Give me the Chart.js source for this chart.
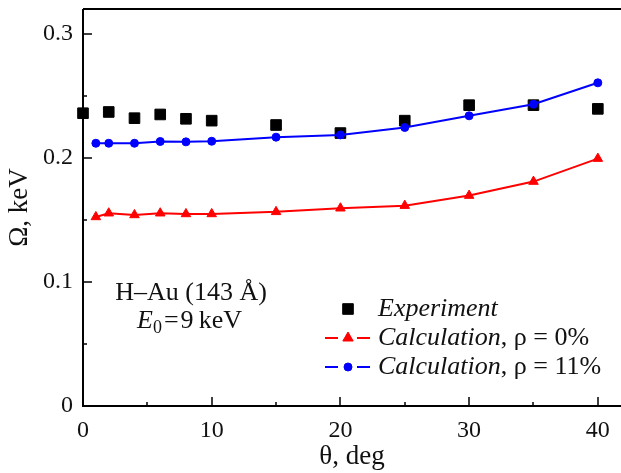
<!DOCTYPE html>
<html>
<head>
<meta charset="utf-8">
<script src="https://cdn.jsdelivr.net/npm/chart.js@4/dist/chart.umd.min.js"></script>
<style>
  html, body { margin: 0; padding: 0; background: #fff; }
  #wrap { width: 621px; height: 473px; }
</style>
</head>
<body>
<div id="wrap"><canvas id="chart" width="621" height="473"></canvas></div>
<script>
// data
const expAngles = [0, 2, 4, 6, 8, 10, 15, 20, 25, 30, 35, 40];
const expValues = [0.236, 0.237, 0.232, 0.235, 0.2315, 0.230, 0.2265, 0.220, 0.230, 0.2425, 0.2425, 0.2395];
const calcAngles = [1, 2, 4, 6, 8, 10, 15, 20, 25, 30, 35, 40];
const calcRho0 = [0.1524, 0.1554, 0.154, 0.1554, 0.1548, 0.1548, 0.1565, 0.1594, 0.1615, 0.1696, 0.1809, 0.1994];
const calcRho11 = [0.2118, 0.2118, 0.2118, 0.2132, 0.2129, 0.2134, 0.2167, 0.2185, 0.2245, 0.2339, 0.2433, 0.2605];
const xMajor = [0, 10, 20, 30, 40];
const xMinor = [5, 15, 25, 35];
const yMajor = [0, 0.1, 0.2, 0.3];
const yMinor = [0.05, 0.15, 0.25];

const serif = '"Liberation Serif", "DejaVu Serif", serif';
const toXY = (xs, ys) => xs.map((x, i) => ({ x: x, y: ys[i] }));

function noPad(s) { s.paddingTop = 0; s.paddingBottom = 0; s.paddingLeft = 0; s.paddingRight = 0; }

const framePlugin = {
    id: 'frame',
    afterDatasetsDraw(chart) {
        const { ctx, chartArea: a, scales } = chart;
        const sx = scales.x, sy = scales.y;
        ctx.save();
        ctx.strokeStyle = '#000';
        ctx.lineWidth = 2;
        ctx.beginPath();
        ctx.moveTo(a.left, a.top); ctx.lineTo(a.left, a.bottom); ctx.lineTo(a.right, a.bottom);
        ctx.moveTo(a.left, a.top); ctx.lineTo(a.right, a.top);
        ctx.stroke();
        ctx.lineWidth = 1.5;
        ctx.beginPath();
        yMajor.forEach(v => { const p = Math.round(sy.getPixelForValue(v)); ctx.moveTo(a.left, p); ctx.lineTo(a.left + 9, p); });
        yMinor.forEach(v => { const p = Math.round(sy.getPixelForValue(v)); ctx.moveTo(a.left, p); ctx.lineTo(a.left + 4, p); });
        xMajor.forEach(v => { const p = Math.round(sx.getPixelForValue(v)); ctx.moveTo(p, a.bottom); ctx.lineTo(p, a.bottom - 9); });
        xMinor.forEach(v => { const p = Math.round(sx.getPixelForValue(v)); ctx.moveTo(p, a.bottom); ctx.lineTo(p, a.bottom - 4); });
        ctx.stroke();

        // annotation
        ctx.fillStyle = '#111';
        ctx.textBaseline = 'middle';
        ctx.textAlign = 'center';
        ctx.font = '26px ' + serif;
        ctx.fillText('H\u2013Au (143 \u00c5)', 191, 293);
        ctx.textAlign = 'left';
        let x = 137;
        ctx.font = 'italic 26px ' + serif;
        ctx.fillText('E', x, 321); x += ctx.measureText('E').width;
        ctx.font = '18px ' + serif;
        ctx.fillText('0', x, 328); x += ctx.measureText('0').width + 2;
        ctx.font = '26px ' + serif;
        ctx.fillText('=', x, 321); x += ctx.measureText('=').width + 2;
        ctx.fillText('9\u2009keV', x, 321);

        // legend
        const rows = [
            { y: 309, color: '#000', style: 'rect', r: 7.5, line: false, it: 'Experiment', rest: '' },
            { y: 338, color: '#ff0000', style: 'triangle', r: 6, line: true, it: 'Calculation', rest: ', \u03c1 = 0%' },
            { y: 367, color: '#0000ff', style: 'circle', r: 4, line: true, it: 'Calculation', rest: ', \u03c1 = 11%' }
        ];
        rows.forEach(r => {
            if (r.line) {
                ctx.strokeStyle = r.color; ctx.lineWidth = 2;
                ctx.beginPath();
                ctx.moveTo(325, r.y); ctx.lineTo(338, r.y);
                ctx.moveTo(357, r.y); ctx.lineTo(370, r.y);
                ctx.stroke();
            }
            ctx.fillStyle = r.color; ctx.strokeStyle = r.color; ctx.lineWidth = 1;
            Chart.helpers.drawPoint(ctx, { pointStyle: r.style, radius: r.r, borderWidth: 1, rotation: 0 }, 348, r.y);
            ctx.fillStyle = '#111';
            ctx.font = 'italic 26px ' + serif;
            ctx.fillText(r.it, 378, r.y);
            const w = ctx.measureText(r.it).width;
            ctx.font = '26px ' + serif;
            ctx.fillText(r.rest, 378 + w, r.y);
        });
        ctx.restore();
    }
};

new Chart(document.getElementById('chart'), {
    type: 'scatter',
    data: {
        datasets: [
            {
                label: 'Calculation, \u03c1 = 11%', data: toXY(calcAngles, calcRho11),
                showLine: true, borderColor: '#0000ff', backgroundColor: '#0000ff', borderWidth: 2,
                pointStyle: 'circle', pointRadius: 4, pointBorderWidth: 1, clip: false
            },
            {
                label: 'Calculation, \u03c1 = 0%', data: toXY(calcAngles, calcRho0),
                showLine: true, borderColor: '#ff0000', backgroundColor: '#ff0000', borderWidth: 2,
                pointStyle: 'triangle', pointRadius: 5.5, pointBorderWidth: 1, clip: false
            },
            {
                label: 'Experiment', data: toXY(expAngles, expValues),
                showLine: false, borderColor: '#000', backgroundColor: '#000',
                pointStyle: 'rect', pointRadius: 7.5, pointBorderWidth: 1, clip: false
            }
        ]
    },
    options: {
        responsive: false, animation: false,
        layout: { autoPadding: false, padding: { top: 9, right: 0, left: 0, bottom: 0 } },
        plugins: { legend: { display: false }, tooltip: { enabled: false } },
        scales: {
            x: {
                type: 'linear', min: 0, max: 41.8,
                afterBuildTicks: s => { s.ticks = xMajor.map(v => ({ value: v })); },
                afterFit: s => { s.height = 67; noPad(s); },
                grid: { display: false, drawTicks: false },
                border: { display: false },
                ticks: { padding: 10, color: '#111', font: { family: serif, size: 24 }, maxRotation: 0 },
                title: { display: true, text: '\u03b8, deg', color: '#111', font: { family: serif, size: 27 }, padding: { top: 0, bottom: 0 } }
            },
            y: {
                type: 'linear', min: 0, max: 0.32,
                afterBuildTicks: s => { s.ticks = yMajor.map(v => ({ value: v })); },
                afterFit: s => { s.width = 83; noPad(s); },
                grid: { display: false, drawTicks: false },
                border: { display: false },
                ticks: { padding: 10, color: '#111', font: { family: serif, size: 24 }, callback: v => String(Math.round(v * 10) / 10) },
                title: { display: true, text: '\u03a9, keV', color: '#111', font: { family: serif, size: 27 }, padding: { top: 4, bottom: 0 } }
            }
        }
    },
    plugins: [framePlugin]
});
</script>
</body>
</html>
